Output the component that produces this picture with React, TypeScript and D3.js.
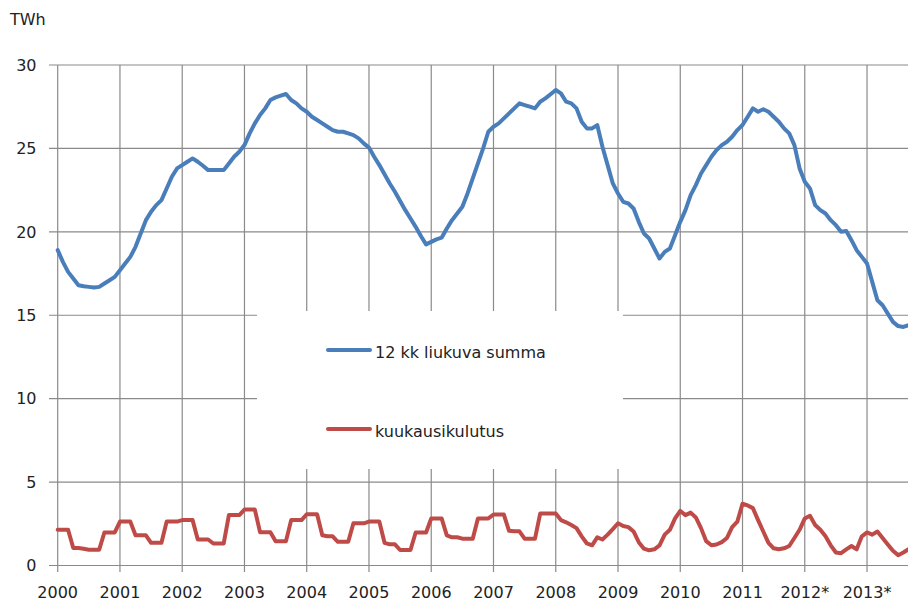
// Sähkönkulutus — 12 kk liukuva summa ja kuukausikulutus (TWh), D3 + React
import React from 'react';
import * as d3 from 'd3';

// Vuosien tunnisteet x-akselilla (tammikuu kunkin vuoden kohdalla)
const yearLabels = [
  '2000', '2001', '2002', '2003', '2004', '2005', '2006',
  '2007', '2008', '2009', '2010', '2011', '2012*', '2013*',
];

const yTicks = [0, 5, 10, 15, 20, 25, 30];

// 12 kk liukuva summa, tammikuu 2000 – syyskuu 2013
const rollingSum = [
  18.9, 18.2, 17.6, 17.2, 16.8, 16.74, 16.7, 16.66, 16.7, 16.9, 17.1, 17.3,
  17.7, 18.1, 18.5, 19.1, 19.9, 20.7, 21.2, 21.6, 21.9, 22.6, 23.3, 23.8,
  24.0, 24.2, 24.4, 24.2, 23.96, 23.7, 23.7, 23.7, 23.7, 24.1, 24.5, 24.8,
  25.2, 25.9, 26.5, 27.0, 27.4, 27.9, 28.06, 28.16, 28.26, 27.9, 27.7, 27.4,
  27.2, 26.9, 26.7, 26.5, 26.3, 26.1, 26.0, 26.0, 25.9, 25.8, 25.6, 25.3,
  25.05, 24.5, 24.0, 23.45, 22.9, 22.4, 21.85, 21.3, 20.8, 20.3, 19.75, 19.25,
  19.4, 19.55, 19.65, 20.2, 20.7, 21.1, 21.5, 22.3, 23.2, 24.1, 25.0, 26.0,
  26.3, 26.5, 26.8, 27.1, 27.4, 27.7, 27.6, 27.5, 27.4, 27.8, 28.0, 28.25,
  28.5, 28.3, 27.8, 27.7, 27.4, 26.6, 26.2, 26.2, 26.4, 25.1, 24.0, 22.9,
  22.3, 21.8, 21.7, 21.4, 20.6, 19.9, 19.6, 19.0, 18.4, 18.8, 19.0, 19.8,
  20.6, 21.3, 22.2, 22.8, 23.5, 24.0, 24.5, 24.9, 25.2, 25.4, 25.7, 26.1,
  26.4, 26.9, 27.4, 27.2, 27.35, 27.2, 26.9, 26.6, 26.2, 25.9, 25.2, 23.8,
  23.0, 22.6, 21.6, 21.3, 21.1, 20.7, 20.4, 20.0, 20.05, 19.5, 18.9, 18.5,
  18.1, 17.0, 15.9, 15.6, 15.1, 14.6, 14.35, 14.3, 14.4,
];

// Kuukausikulutus, samat kuukaudet
const monthly = [
  2.14, 2.14, 2.14, 1.05, 1.05, 1.0, 0.95, 0.95, 0.95, 1.98, 1.98, 1.98,
  2.63, 2.63, 2.63, 1.81, 1.81, 1.81, 1.36, 1.36, 1.36, 2.63, 2.63, 2.63,
  2.72, 2.72, 2.72, 1.56, 1.56, 1.56, 1.32, 1.32, 1.32, 3.02, 3.02, 3.02,
  3.35, 3.35, 3.35, 2.0, 2.0, 2.0, 1.46, 1.46, 1.46, 2.72, 2.72, 2.72,
  3.07, 3.07, 3.07, 1.81, 1.75, 1.75, 1.42, 1.42, 1.42, 2.53, 2.53, 2.53,
  2.63, 2.63, 2.63, 1.36, 1.27, 1.27, 0.93, 0.93, 0.93, 1.98, 1.98, 1.98,
  2.82, 2.82, 2.82, 1.81, 1.69, 1.69, 1.61, 1.61, 1.61, 2.82, 2.82, 2.82,
  3.05, 3.05, 3.05, 2.08, 2.05, 2.05, 1.61, 1.61, 1.61, 3.11, 3.11, 3.11,
  3.11, 2.72, 2.59, 2.43, 2.24, 1.75, 1.32, 1.21, 1.69, 1.56, 1.85, 2.18,
  2.53, 2.37, 2.30, 2.04, 1.40, 1.01, 0.91, 0.97, 1.21, 1.85, 2.14, 2.82,
  3.27, 3.02, 3.17, 2.88, 2.24, 1.46, 1.21, 1.26, 1.40, 1.65, 2.30, 2.63,
  3.70, 3.60, 3.44, 2.72, 2.04, 1.36, 1.03, 0.97, 1.03, 1.17, 1.65, 2.14,
  2.82, 2.98, 2.43, 2.14, 1.75, 1.21, 0.78, 0.74, 0.97, 1.17, 0.97, 1.75,
  1.98, 1.85, 2.04, 1.65, 1.26, 0.88, 0.62, 0.78, 0.97,
];

const legendItems = [
  { label: '12 kk liukuva summa', color: '#4a7ebb' },
  { label: 'kuukausikulutus', color: '#be4b48' },
];

const W = 908;
const H = 606;
const FONT = '"DejaVu Sans", Verdana, sans-serif';
const GRID = '#8a8a8a';

const App: React.FC = () => {
  // Kuukausi-indeksi -> x
  const x = d3.scaleLinear().domain([0, 164]).range([57.7, 57.7 + 5.188 * 164]);
  const y = d3.scaleLinear().domain([0, 30]).range([565.5, 65]);

  const line = d3.line<number>()
    .x((_, i) => x(i))
    .y((d) => y(d))
    .curve(d3.curveLinear);

  const plotRight = W;
  const legend = { x0: 257, x1: 623, y0: 311, y1: 469 };

  return (
    <svg
      width={W}
      height={H}
      style={{ position: 'absolute', left: 0, top: 0, background: '#fff' }}
      fontFamily={FONT}
    >
      {/* Vaakaviivat ja y-akselin tunnisteet */}
      {yTicks.map((t) => (
        <g key={`y${t}`}>
          <line x1={49} x2={plotRight} y1={y(t)} y2={y(t)} stroke={GRID} strokeWidth={1.2} />
          <text x={36.5} y={y(t)} dy="0.36em" textAnchor="end" fontSize={16} fill="#222">
            {t}
          </text>
        </g>
      ))}

      {/* Pystyviivat vuosittain ja x-akselin tunnisteet */}
      {yearLabels.map((label, k) => (
        <g key={label}>
          <line x1={x(k * 12)} x2={x(k * 12)} y1={y(30)} y2={572} stroke={GRID} strokeWidth={1.2} />
          <text x={x(k * 12)} y={598} textAnchor="middle" fontSize={16} fill="#222">
            {label}
          </text>
        </g>
      ))}

      <text x={10} y={25} fontSize={16} fill="#222">TWh</text>

      {/* Selitteen valkoinen tausta peittää ruudukon */}
      <rect
        x={legend.x0}
        y={legend.y0}
        width={legend.x1 - legend.x0}
        height={legend.y1 - legend.y0}
        fill="#fff"
      />
      {legendItems.map((item, k) => {
        const ly = k === 0 ? 350 : 429;
        return (
          <g key={item.label}>
            <line x1={328} x2={370} y1={ly} y2={ly} stroke={item.color} strokeWidth={4} strokeLinecap="round" />
            <text x={375} y={ly + 7.5} fontSize={16} fill="#222">{item.label}</text>
          </g>
        );
      })}

      {/* Sarjat */}
      <path d={line(monthly) || ''} fill="none" stroke="#be4b48" strokeWidth={4} strokeLinejoin="round" strokeLinecap="round" />
      <path d={line(rollingSum) || ''} fill="none" stroke="#4a7ebb" strokeWidth={4} strokeLinejoin="round" strokeLinecap="round" />
    </svg>
  );
};

export default App;
